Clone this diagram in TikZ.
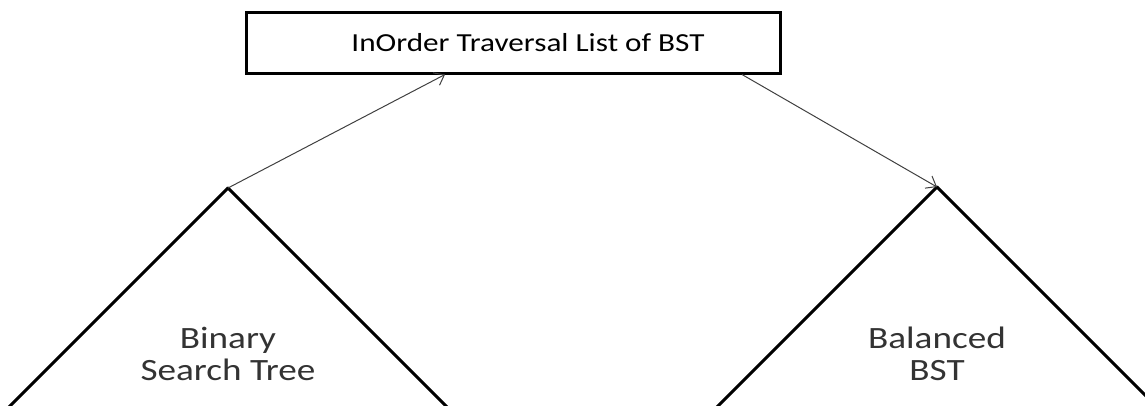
\documentclass[tikz,border=0pt]{standalone}
\usepackage{fontspec}
\setmainfont{Carlito}
\usetikzlibrary{arrows.meta}
\begin{document}
\begin{tikzpicture}[x=1pt,y=-1pt,
  boxstyle/.style={draw=black,line width=3pt,minimum width=534pt,minimum height=61pt,inner sep=0pt},
  treeline/.style={line width=3pt,line cap=round},
  conn/.style={draw=black!75,line width=1pt,-{Straight Barb[length=9pt,width=14pt]}},
  lbl/.style={align=center,font=\fontsize{31}{32}\selectfont,text=black!80,xscale=1.2}]
\useasboundingbox (0,0) rectangle (1145,405);
\node[boxstyle] (list) at (513,42.5) {};
\node[font=\fontsize{26}{30}\selectfont,xscale=1.2,anchor=center] (title) at ([xshift=15pt]list.center) {InOrder Traversal List of BST};
\coordinate (bst) at (228,188);
\coordinate (bal) at (937,187);
\draw[treeline] (bst) -- ++(-225,225);
\draw[treeline] (bst) -- ++(225,225);
\draw[treeline] (bal) -- ++(-225,225);
\draw[treeline] (bal) -- ++(225,225);
\node[lbl] (bstlbl) at (228,354) {Binary\\Search Tree};
\node[lbl] (ballbl) at (937,354) {Balanced\\BST};
\draw[conn] (bst) -- (list.south -| 445,0);
\draw[conn] (list.south -| 742,0) -- (bal);
\end{tikzpicture}
\end{document}
